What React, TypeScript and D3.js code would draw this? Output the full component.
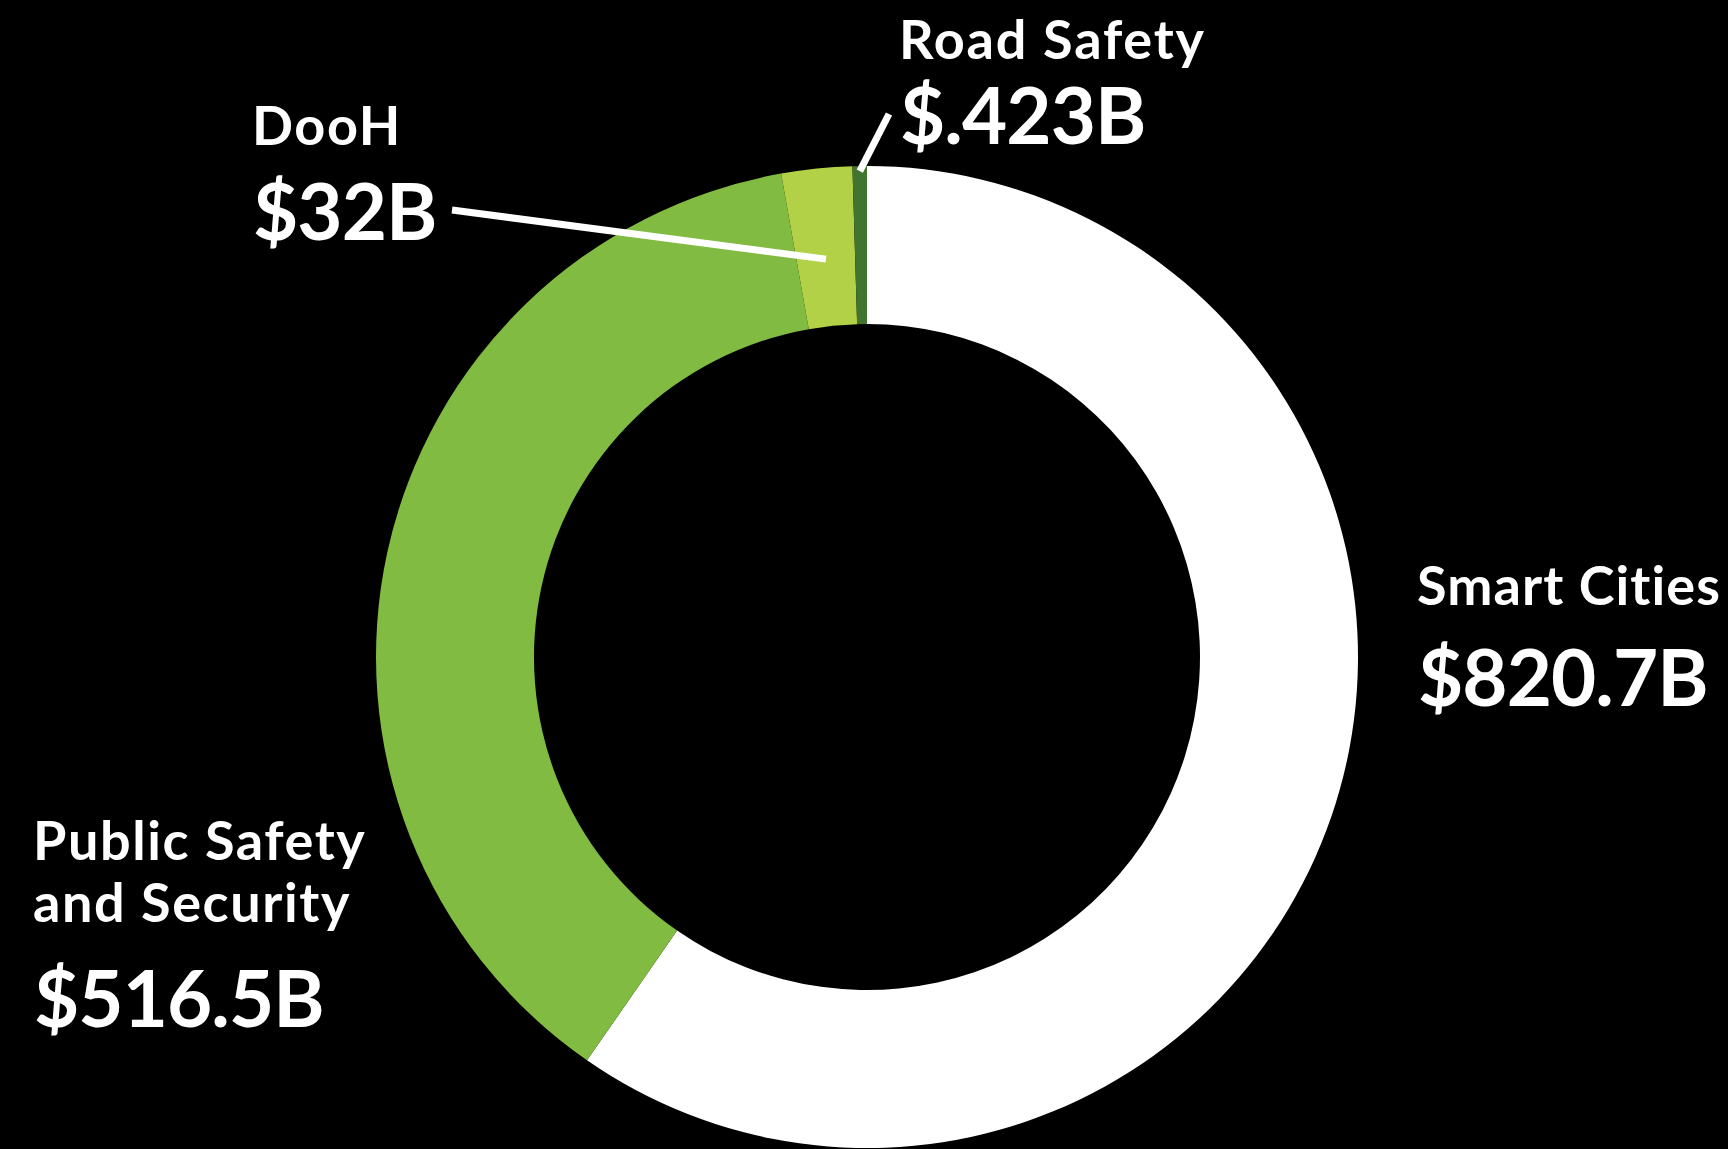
import { useEffect, useRef } from "react";
import * as d3 from "d3";

// slices clockwise from 12 o'clock
const categories = ["Smart Cities", "Public Safety and Security", "DooH", "Road Safety"];
const nameLines = [["Smart Cities"], ["Public Safety", "and Security"], ["DooH"], ["Road Safety"]];
const valueLabels = ["$820.7B", "$516.5B", "$32B", "$.423B"];
// slice sizes as drawn in the picture (Road Safety is drawn wider than its label value)
const sliceWeights = [820.7, 516.5, 32, 6.5];
const sliceColors = ["#ffffff", "#82bb41", "#b3d147", "#41742f"];

export default function App() {
  const svgRef = useRef<SVGSVGElement | null>(null);

  useEffect(() => {
    document.body.style.margin = "0";
    document.body.style.background = "#000";

    const W = 1728;
    const H = 1149;
    const cx = 867;
    const cy = 657;
    const outerR = 491;
    const innerR = 333;
    const font = "Lato, 'Open Sans', sans-serif";

    const svg = d3.select(svgRef.current).attr("width", W).attr("height", H);
    svg.selectAll("*").remove();

    svg.append("rect").attr("width", W).attr("height", H).attr("fill", "#000");

    const pie = d3.pie<number>().sort(null).value(d => d);
    const arcs = pie(sliceWeights);
    const arc = d3.arc<d3.PieArcDatum<number>>().innerRadius(innerR).outerRadius(outerR);

    const g = svg.append("g").attr("transform", `translate(${cx},${cy})`);
    g.selectAll("path")
      .data(arcs)
      .join("path")
      .attr("d", arc)
      .attr("fill", (_, i) => sliceColors[i]);

    // label anchors (text start x, first name baseline, value baseline)
    const labelPos = [
      { x: 1417, nameY: 605, valueY: 706, lineGap: 0, spacing: 1.1 },
      { x: 33, nameY: 860, valueY: 1027, lineGap: 62, spacing: 1.6 },
      { x: 252, nameY: 145, valueY: 240, lineGap: 0, spacing: 1.6 },
      { x: 899, nameY: 59, valueY: 144, lineGap: 0, spacing: 1.8 }
    ];

    categories.forEach((_, i) => {
      const p = labelPos[i];
      nameLines[i].forEach((line, j) => {
        svg.append("text")
          .attr("x", p.x)
          .attr("y", p.nameY + j * p.lineGap)
          .attr("fill", "#fff")
          .style("font-family", font)
          .style("font-weight", 700)
          .style("font-size", "54px")
          .style("letter-spacing", `${p.spacing}px`)
          .text(line);
      });
      svg.append("text")
        .attr("x", p.x + 1)
        .attr("y", p.valueY)
        .attr("fill", "#fff")
        .style("font-family", font)
        .style("font-weight", 700)
        .style("font-size", "78px")
        .style("letter-spacing", "-0.9px")
        .text(valueLabels[i]);
    });

    // leader lines for the two thin slices
    const leaders = [
      { idx: 2, r: 400, x: 452, y: 210 },
      { idx: 3, r: 486, x: 889, y: 114 }
    ];
    leaders.forEach(l => {
      const a = arcs[l.idx];
      const mid = (a.startAngle + a.endAngle) / 2;
      svg.append("line")
        .attr("x1", l.x)
        .attr("y1", l.y)
        .attr("x2", cx + l.r * Math.sin(mid))
        .attr("y2", cy - l.r * Math.cos(mid))
        .attr("stroke", "#fff")
        .attr("stroke-width", 7);
    });
  }, []);

  return (
    <div style={{ background: "#000", width: 1728, height: 1149 }}>
      <svg ref={svgRef} style={{ display: "block" }}></svg>
    </div>
  );
}
